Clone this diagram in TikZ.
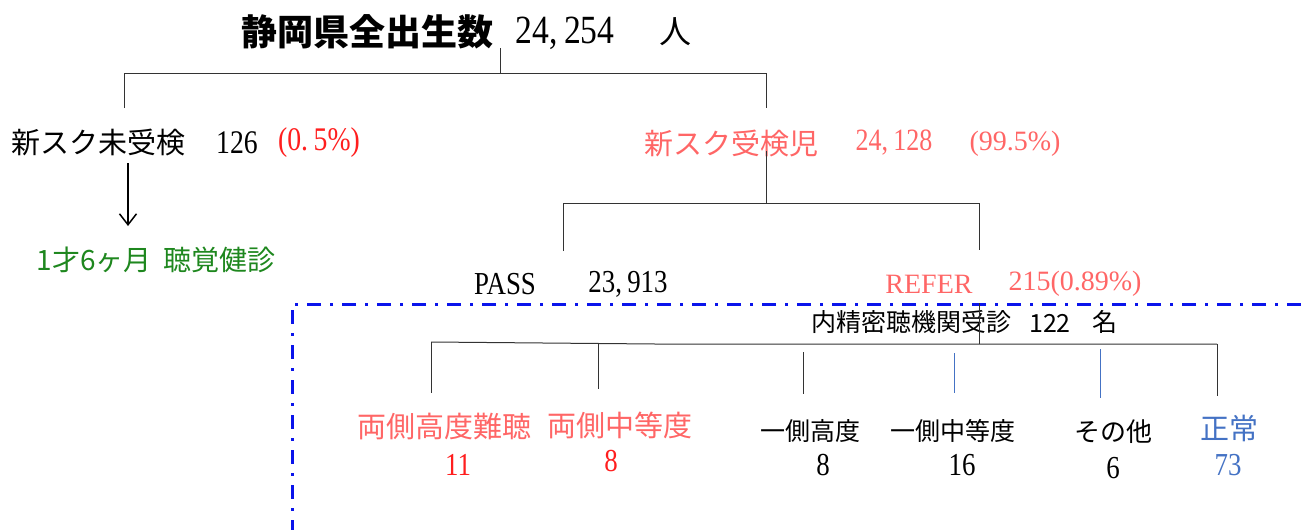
\documentclass[tikz,border=0pt]{standalone}
\usepackage{fontspec}
\setmainfont{Liberation Serif}
\newfontfamily\jp{Noto Sans CJK JP}
\newfontfamily\cnum[FakeStretch=0.84]{Liberation Serif}
\usetikzlibrary{arrows.meta}
\definecolor{salmon}{RGB}{255,102,102}
\definecolor{myred}{RGB}{255,30,30}
\definecolor{mygreen}{RGB}{30,135,30}
\definecolor{myblue}{RGB}{68,114,196}
\definecolor{dashblue}{RGB}{10,20,235}
\newcommand\myfs[1]{\fontsize{#1}{#1}\selectfont}
\begin{document}
\begin{tikzpicture}[x=1pt,y=-1pt,
  txt/.style={inner sep=0pt, anchor=center},
  conn/.style={draw=black!80, line width=1pt},
  bconn/.style={draw=myblue, line width=1pt},
  frame/.style={draw=dashblue, line width=3pt, dash pattern=on 14pt off 9pt on 3pt off 9pt}]
\useasboundingbox (0,0) rectangle (1301,530);

% title
\node[txt, font=\jp\bfseries\myfs{36}] (title) at (367,32) {静岡県全出生数};
\node[txt, font=\cnum\myfs{40}] (titlenum) at (565,33) {24,\,254};
\node[txt, font=\jp\myfs{32}] (titleunit) at (675,32) {人};

% level 2
\node[txt, font=\jp\myfs{29}] (mik) at (98,142) {新スク未受検};
\node[txt, font=\cnum\myfs{33}] (mikn) at (237,143) {126};
\node[txt, font=\cnum\myfs{33}, text=myred] (mikp) at (319,143) {(0.\,5\%)};

\node[txt, font=\jp\myfs{29}, text=salmon] (juk) at (731,143) {新スク受検児};
\node[txt, font=\cnum\myfs{31}, text=salmon] (jukn) at (894,143) {24,\,128};
\node[txt, font=\myfs{28}, text=salmon] (jukp) at (1015,144) {(99.5\%)};

\node[txt, font=\jp\myfs{28}, text=mygreen] (kenshin) at (156,260) {1才6ヶ月\hspace{12pt}聴覚健診};

% level 3
\node[txt, font=\cnum\myfs{32}] (pass) at (505,284) {PASS};
\node[txt, font=\cnum\myfs{32}] (passn) at (628,284) {23,\,913};
\node[txt, font=\myfs{28}, text=salmon] (refer) at (929,284) {REFER};
\node[txt, font=\myfs{28}, text=salmon] (refern) at (1075,284) {215(0.89\%)};

% frame
\coordinate (fr1) at (1301,304);
\coordinate (fr2) at (292,304);
\coordinate (fr3) at (292,530);
\draw[frame] (fr1) -- (fr2) -- (fr3);

\node[txt, font=\jp\myfs{25}] (seimitsu) at (911,322) {内精密聴機関受診};
\node[txt, font=\jp\myfs{25}] (seimitsun) at (1050,323) {122};
\node[txt, font=\jp\myfs{25}] (seimitsuu) at (1105,322) {名};

% level 4
\node[txt, font=\jp\myfs{29}, text=salmon] (c1) at (444,427) {両側高度難聴};
\node[txt, font=\jp\myfs{29}, text=salmon] (c2) at (620,425) {両側中等度};
\node[txt, font=\jp\myfs{25}] (c3) at (810,431) {一側高度};
\node[txt, font=\jp\myfs{25}] (c4) at (953,431) {一側中等度};
\node[txt, font=\jp\myfs{26}] (c5) at (1113,432) {その他};
\node[txt, font=\jp\myfs{29}, text=myblue] (c6) at (1229,428) {正常};

\node[txt, font=\cnum\myfs{32}, text=myred] (n1) at (458,465) {11};
\node[txt, font=\cnum\myfs{32}, text=myred] (n2) at (611,461) {8};
\node[txt, font=\cnum\myfs{32}] (n3) at (823,465) {8};
\node[txt, font=\cnum\myfs{32}] (n4) at (962,465) {16};
\node[txt, font=\cnum\myfs{32}] (n5) at (1113,468) {6};
\node[txt, font=\cnum\myfs{32}, text=myblue] (n6) at (1228,465) {73};

% connectors level 1
\coordinate (t0) at (500,48);
\coordinate (j0) at (500,73);
\coordinate (jl) at (124,73);
\coordinate (jr) at (766,73);
\coordinate (jlb) at (124,108);
\coordinate (jrb) at (766,108);
\draw[conn] (t0) -- (j0);
\draw[conn] (jlb) -- (jl) -- (jr) -- (jrb);

% arrow
\coordinate (a1) at (128,163);
\coordinate (a2) at (128,226);
\draw[line width=1.5pt, -{Straight Barb[length=11pt,width=17pt]}] (a1) -- (a2);

% connectors level 2
\coordinate (k0) at (766,151);
\coordinate (k1) at (766,203);
\coordinate (kl) at (563,203);
\coordinate (kr) at (979,203);
\coordinate (klb) at (563,251);
\coordinate (krb) at (979,250);
\draw[conn] (k0) -- (k1);
\draw[conn] (klb) -- (kl) -- (kr) -- (krb);

% connectors level 3
\coordinate (r0) at (979,303);
\coordinate (r1) at (979,344);
\draw[conn] (r0) -- (r1);
\coordinate (h1) at (431,342);
\coordinate (h2) at (655,344);
\coordinate (h3) at (1217,344);
\draw[conn] (h1) -- (h2) -- (h3);
\coordinate (v1a) at (431,342); \coordinate (v1b) at (431,393);
\coordinate (v2a) at (598,344); \coordinate (v2b) at (598,389);
\coordinate (v3a) at (803,352); \coordinate (v3b) at (803,394);
\coordinate (v4a) at (954,353); \coordinate (v4b) at (954,393);
\coordinate (v5a) at (1100,349); \coordinate (v5b) at (1100,398);
\coordinate (v6a) at (1217,344); \coordinate (v6b) at (1217,396);
\draw[conn] (v1a) -- (v1b);
\draw[conn] (v2a) -- (v2b);
\draw[conn] (v3a) -- (v3b);
\draw[bconn] (v4a) -- (v4b);
\draw[bconn] (v5a) -- (v5b);
\draw[conn] (v6a) -- (v6b);
\end{tikzpicture}
\end{document}
